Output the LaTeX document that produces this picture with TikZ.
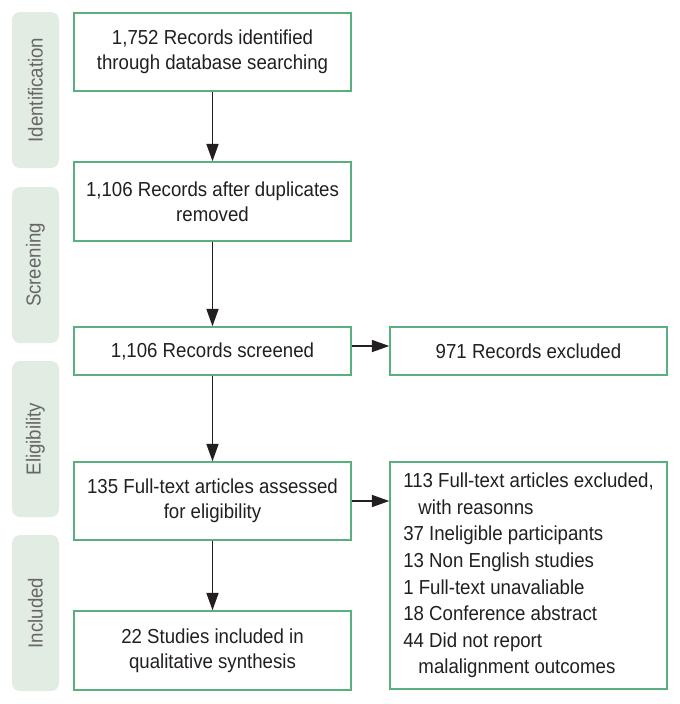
\documentclass[tikz,border=0pt]{standalone}
\usepackage{fontspec}
\setmainfont{Liberation Sans}[FakeStretch=0.92]
\usetikzlibrary{arrows.meta}
\definecolor{boxgreen}{HTML}{5AAF7E}
\definecolor{barfill}{HTML}{E1ECE3}
\definecolor{bartext}{HTML}{666666}
\definecolor{ink}{HTML}{231F20}
\tikzset{
  flowbox/.style={draw=boxgreen, line width=1.1pt, fill=white, inner sep=0pt,
    minimum width=207.75pt, align=center, text=ink,
    font=\fontsize{15.2}{18.75}\selectfont},
  phasebar/.style={fill=barfill, rounded corners=6pt, inner sep=0pt,
    minimum width=35.25pt, minimum height=117pt},
  phasetext/.style={rotate=90, text=bartext, font=\fontsize{15.2}{18}\selectfont},
  flowarrow/.style={draw=ink, line width=1.1pt, -{Triangle[length=13pt,width=9pt]}}
}
\begin{document}
\begin{tikzpicture}[x=0.75pt,y=-0.75pt]
\useasboundingbox (0,0) rectangle (679,704);
% phase bars
\node[phasebar] (pid) at (35.5,90) {};
\node[phasetext] (tid) at (pid.center) {Identification};
\node[phasebar] (psc) at (35.5,265) {};
\node[phasetext] (tsc) at (psc.center) {Screening};
\node[phasebar] (pel) at (35.5,439) {};
\node[phasetext] (tel) at (pel.center) {Eligibility};
\node[phasebar] (pin) at (35.5,613) {};
\node[phasetext] (tin) at (pin.center) {Included};
% boxes
\node[flowbox, minimum height=58.5pt] (b1) at (212.5,52) {1,752 Records identified\\through database searching};
\node[flowbox, minimum height=59.25pt] (b2) at (212.5,201.5) {1,106 Records after duplicates\\removed};
\node[flowbox, minimum height=36pt] (b3) at (212.5,351) {1,106 Records screened};
\node[flowbox, minimum height=36pt] (b4) at (528.5,351) {971 Records excluded};
\node[flowbox, minimum height=58.5pt] (b5) at (212.5,501) {135 Full-text articles assessed\\for eligibility};
\node[flowbox, minimum height=170.25pt, align=left, font=\fontsize{15.2}{19.9}\selectfont] (b6) at (528.5,575.5) {113 Full-text articles excluded,\\\hspace*{0.75em}with reasonns\\37 Ineligible participants\\13 Non English studies\\1 Full-text unavaliable\\18 Conference abstract\\44 Did not report\\\hspace*{0.75em}malalignment outcomes};
\node[flowbox, minimum height=59.25pt] (b7) at (212.5,650.5) {22 Studies included in\\qualitative synthesis};
% arrows
\draw[flowarrow] (b1.south) -- (b2.north);
\draw[flowarrow] (b2.south) -- (b3.north);
\draw[flowarrow] (b3.south) -- (b5.north);
\draw[flowarrow] (b5.south) -- (b7.north);
\draw[flowarrow] ([yshift=3.75pt]b3.east) -- ([yshift=3.75pt]b4.west);
\draw[flowarrow] (b5.east) -- (b5.east -| b6.west);
\end{tikzpicture}
\end{document}
